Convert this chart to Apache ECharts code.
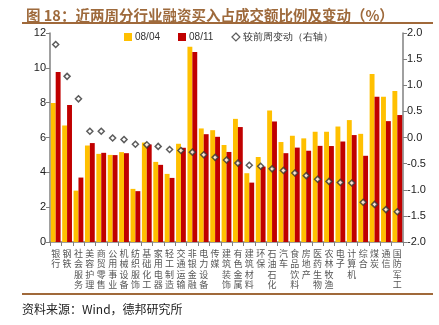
<!DOCTYPE html>
<html><head><meta charset="utf-8">
<script src="https://cdn.jsdelivr.net/npm/echarts@6/dist/echarts.min.js"></script>
<style>html,body{margin:0;padding:0;background:#fff}#c{width:439px;height:325px}</style>
</head><body><div id="c"></div>
<script>
const categories = ['银行','钢铁','社会服务','美容护理','商贸零售','公用事业','机械设备','纺织服饰','基础化工','家用电器','轻工制造','交通运输','非银金融','电力设备','传媒','建筑装饰','有色金属','建筑材料','环保','石油石化','汽车','食品饮料','房地产','医药生物','农林牧渔','电子','计算机','综合','煤炭','通信','国防军工'];
const week0804 = [7.98,6.69,2.95,5.54,5.06,5.00,5.16,3.05,5.71,4.60,3.91,5.64,11.21,6.52,6.42,5.57,7.07,3.95,4.88,7.55,5.74,6.10,5.95,6.33,6.33,6.63,7.00,6.21,9.64,8.34,8.67];
const week0811 = [9.76,7.86,3.70,5.68,5.12,4.99,5.10,2.92,5.60,4.43,3.68,5.41,10.91,6.19,6.04,5.17,6.60,3.41,4.33,6.92,5.10,5.42,5.24,5.52,5.51,5.77,6.14,4.95,8.34,6.94,7.29];
const change = [1.78,1.17,0.74,0.12,0.12,-0.01,-0.04,-0.13,-0.14,-0.17,-0.23,-0.25,-0.28,-0.33,-0.38,-0.43,-0.49,-0.53,-0.55,-0.60,-0.63,-0.68,-0.73,-0.80,-0.84,-0.86,-0.87,-1.24,-1.28,-1.38,-1.42];
const leftTicks = {min:0,max:12,interval:2};
const rightTicks = {min:-2,max:2,interval:0.5};

const chart = echarts.init(document.getElementById('c'), null, {renderer:'canvas'});
const axisColor = '#808080';
const lblFont = 'Arial, "Liberation Sans", sans-serif';
chart.setOption({
  animation:false,
  title:{text:'图 18：近两周分行业融资买入占成交额比例及变动（%）',left:21,top:3,
    textStyle:{fontSize:14.5,fontWeight:'bold',color:'#9e6a3c',fontFamily:'"Noto Sans CJK SC", sans-serif'}},
  legend:{left:119,top:27,itemWidth:8,itemHeight:8,itemGap:18,
    textStyle:{fontSize:10,color:'#333',fontFamily:lblFont,padding:[0,0,0,-2]},
    data:[{name:'08/04',icon:'rect'},{name:'08/11',icon:'rect'},{name:'较前周变动（右轴）',icon:'diamond',itemStyle:{color:'#fff',borderColor:'#333',borderWidth:1.2}}]},
  grid:{left:50,right:36,top:33,bottom:83},
  xAxis:{type:'category',data:categories,
    axisLine:{lineStyle:{color:axisColor,width:1.5}},
    axisTick:{show:true,alignWithLabel:false,length:4,lineStyle:{color:axisColor}},
    axisLabel:{interval:0,margin:6,fontSize:9,lineHeight:10.5,color:'#555',fontFamily:'"Noto Sans CJK SC", sans-serif',
      formatter:v=>v.split('').join('\n')}},
  yAxis:[
    {type:'value',min:leftTicks.min,max:leftTicks.max,interval:leftTicks.interval,
     axisLine:{show:true,lineStyle:{color:axisColor,width:1.5}},
     axisTick:{show:true,length:4,lineStyle:{color:axisColor}},
     splitLine:{show:false},
     axisLabel:{fontSize:11,color:'#222',margin:4,fontFamily:lblFont}},
    {type:'value',min:rightTicks.min,max:rightTicks.max,interval:rightTicks.interval,position:'right',
     axisLine:{show:true,lineStyle:{color:axisColor,width:1.5}},
     axisTick:{show:true,length:4,lineStyle:{color:axisColor}},
     splitLine:{show:false},
     axisLabel:{fontSize:11,color:'#222',margin:4,fontFamily:lblFont,formatter:v=>v.toFixed(1)}}
  ],
  series:[
    {name:'08/04',type:'bar',data:week0804,barGap:'0%',barCategoryGap:'14%',itemStyle:{color:'#FFC000'}},
    {name:'08/11',type:'bar',data:week0811,itemStyle:{color:'#C00000'}},
    {name:'较前周变动（右轴）',type:'scatter',yAxisIndex:1,data:change,symbol:'diamond',symbolSize:6,
     itemStyle:{color:'#fff',borderColor:'#333',borderWidth:1.5},z:5}
  ],
  graphic:[
    {type:'line',shape:{x1:22,y1:23,x2:433,y2:23},style:{stroke:'#a0693a',lineWidth:2}},
    {type:'line',shape:{x1:22,y1:294,x2:433,y2:294},style:{stroke:'#a0693a',lineWidth:2}},
    {type:'text',left:22,top:303,style:{text:'资料来源：Wind，德邦研究所',fontSize:12,fill:'#222',fontFamily:'"Noto Sans CJK SC", sans-serif'}}
  ]
});
</script></body></html>
